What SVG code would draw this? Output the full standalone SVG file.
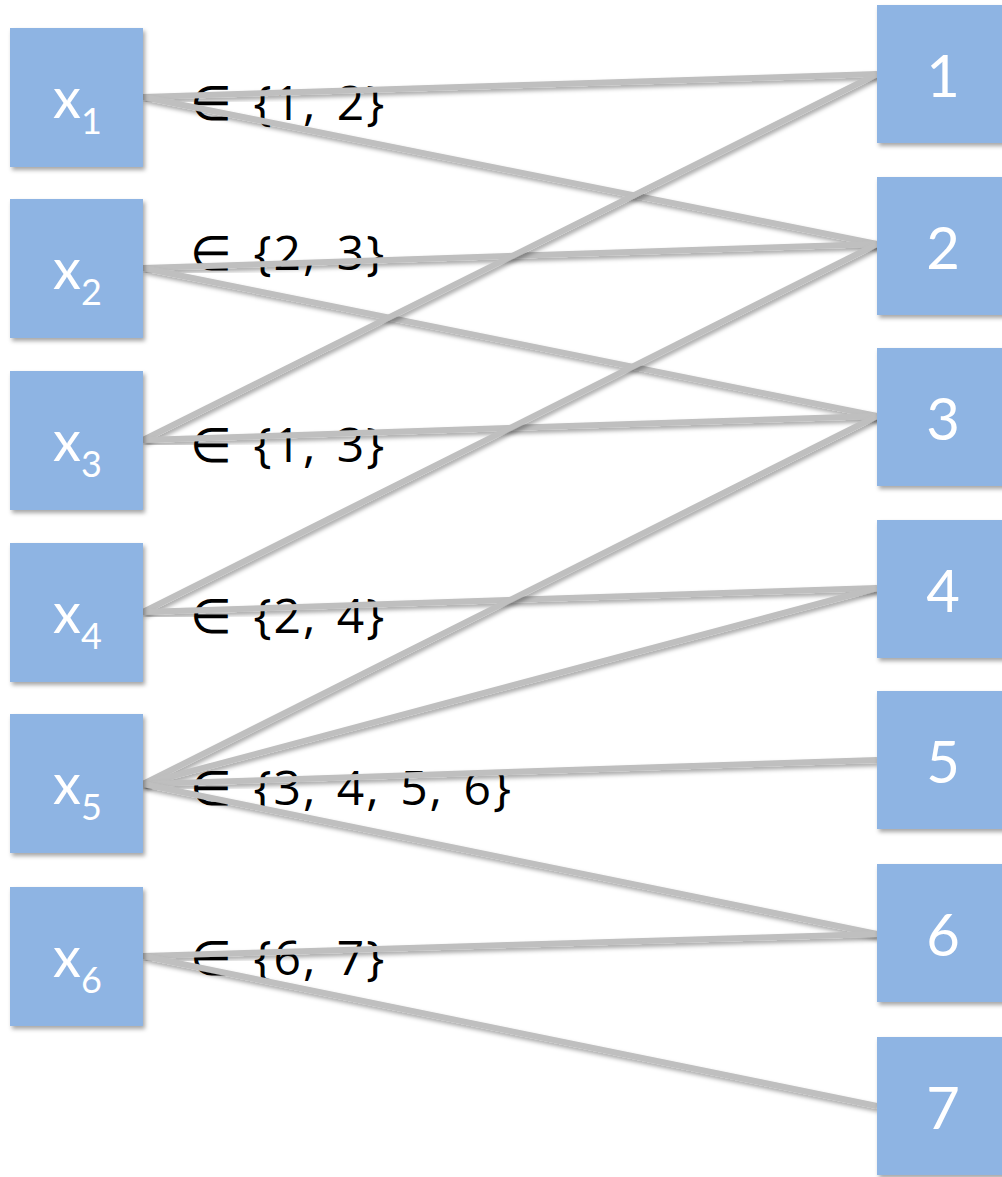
<svg xmlns="http://www.w3.org/2000/svg" width="1002" height="1177" viewBox="0 0 1002 1177">
<defs>
<filter id="sh" x="-20%" y="-20%" width="140%" height="140%">
<feDropShadow dx="2" dy="3" stdDeviation="2" flood-color="#000" flood-opacity="0.35"/>
</filter>
<style>
.n{fill:#8EB4E3;filter:url(#sh)}
.t{fill:#fff;font-family:Lato,"Open Sans",sans-serif;font-size:58px;text-anchor:middle}
.xs{fill:#fff;font-family:Lato,"Open Sans",sans-serif}
.lb{fill:#000;font-family:"Open Sans","DejaVu Sans",sans-serif;font-size:48px;letter-spacing:2px;word-spacing:5px}
.in{font-family:"DejaVu Sans",sans-serif;font-weight:200}
.e{stroke:#BFBFBF;stroke-width:6;fill:none;filter:url(#sh)}
</style>
</defs>
<rect width="1002" height="1177" fill="#fff"/>
<g id="labels">
<text class="lb" x="190" y="120"><tspan class="in">∈</tspan> {1, 2}</text>
<text class="lb" x="190" y="270"><tspan class="in">∈</tspan> {2, 3}</text>
<text class="lb" x="190" y="462"><tspan class="in">∈</tspan> {1, 3}</text>
<text class="lb" x="190" y="633"><tspan class="in">∈</tspan> {2, 4}</text>
<text class="lb" x="190" y="805"><tspan class="in">∈</tspan> {3, 4, 5, 6}</text>
<text class="lb" x="190" y="975"><tspan class="in">∈</tspan> {6, 7}</text>
</g>
<g id="connectors">
<line class="e" x1="143" y1="97" x2="877" y2="74"/>
<line class="e" x1="143" y1="97" x2="877" y2="244"/>
<line class="e" x1="143" y1="268" x2="877" y2="244"/>
<line class="e" x1="143" y1="268" x2="877" y2="416"/>
<line class="e" x1="143" y1="440" x2="877" y2="74"/>
<line class="e" x1="143" y1="440" x2="877" y2="416"/>
<line class="e" x1="143" y1="612" x2="877" y2="244"/>
<line class="e" x1="143" y1="612" x2="877" y2="588"/>
<line class="e" x1="143" y1="784" x2="877" y2="416"/>
<line class="e" x1="143" y1="784" x2="877" y2="588"/>
<line class="e" x1="143" y1="784" x2="877" y2="760"/>
<line class="e" x1="143" y1="784" x2="877" y2="934"/>
<line class="e" x1="143" y1="956" x2="877" y2="934"/>
<line class="e" x1="143" y1="956" x2="877" y2="1106"/>
</g>
<g id="x1"><rect class="n" x="10" y="28" width="133" height="139"/><text class="xs" x="53" y="118" font-size="56">x<tspan font-size="36" dy="16">1</tspan></text></g>
<g id="x2"><rect class="n" x="10" y="199" width="133" height="139"/><text class="xs" x="53" y="289" font-size="56">x<tspan font-size="36" dy="16">2</tspan></text></g>
<g id="x3"><rect class="n" x="10" y="371" width="133" height="139"/><text class="xs" x="53" y="461" font-size="56">x<tspan font-size="36" dy="16">3</tspan></text></g>
<g id="x4"><rect class="n" x="10" y="543" width="133" height="139"/><text class="xs" x="53" y="633" font-size="56">x<tspan font-size="36" dy="16">4</tspan></text></g>
<g id="x5"><rect class="n" x="10" y="714" width="133" height="139"/><text class="xs" x="53" y="804" font-size="56">x<tspan font-size="36" dy="16">5</tspan></text></g>
<g id="x6"><rect class="n" x="10" y="887" width="133" height="139"/><text class="xs" x="53" y="977" font-size="56">x<tspan font-size="36" dy="16">6</tspan></text></g>
<g id="v1"><rect class="n" x="877" y="5" width="133" height="138"/><text class="t" x="943" y="97">1</text></g>
<g id="v2"><rect class="n" x="877" y="177" width="133" height="138"/><text class="t" x="943" y="269">2</text></g>
<g id="v3"><rect class="n" x="877" y="348" width="133" height="138"/><text class="t" x="943" y="440">3</text></g>
<g id="v4"><rect class="n" x="877" y="520" width="133" height="138"/><text class="t" x="943" y="612">4</text></g>
<g id="v5"><rect class="n" x="877" y="691" width="133" height="138"/><text class="t" x="943" y="783">5</text></g>
<g id="v6"><rect class="n" x="877" y="864" width="133" height="138"/><text class="t" x="943" y="956">6</text></g>
<g id="v7"><rect class="n" x="877" y="1037" width="133" height="138"/><text class="t" x="943" y="1129">7</text></g>
</svg>
